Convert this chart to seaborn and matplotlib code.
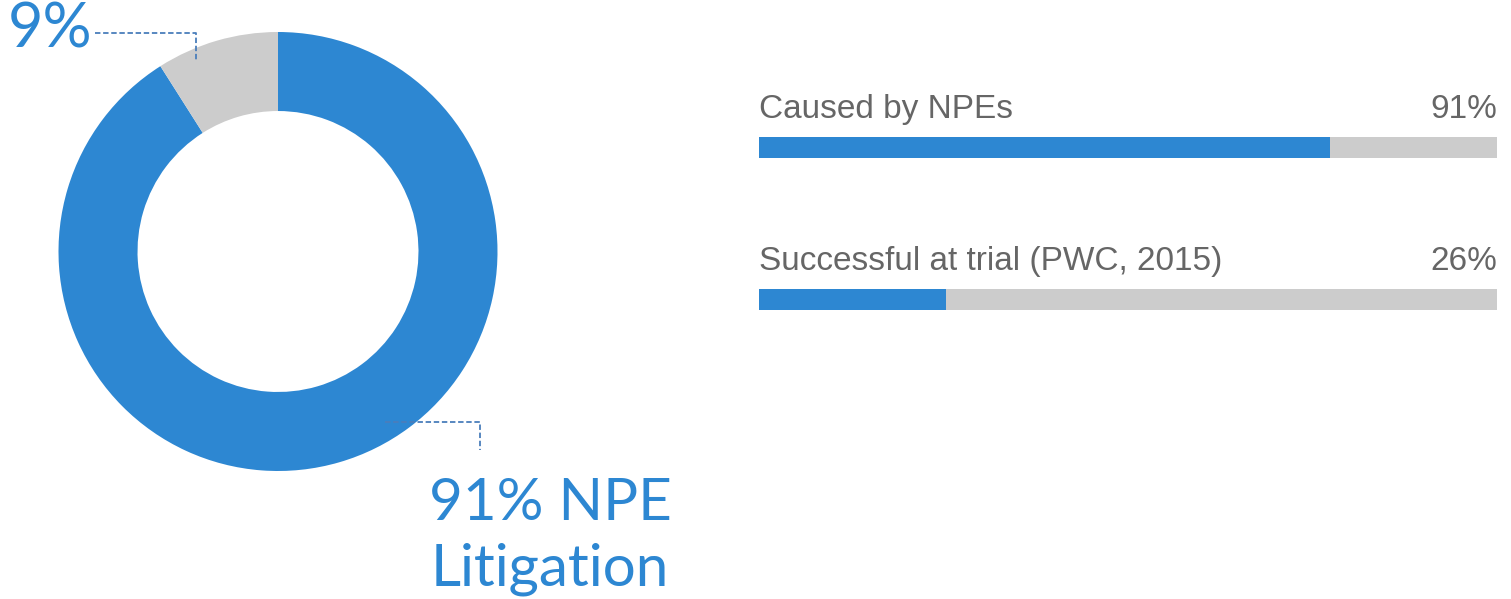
import matplotlib
matplotlib.use("Agg")
import matplotlib.pyplot as plt
import seaborn as sns
import pandas as pd

# donut data
slice_labels = ["NPE litigation", "Other"]
slice_values = [91, 9]

# progress bars
bar_labels = ["Caused by NPEs", "Successful at trial (PWC, 2015)"]
bar_value_text = ["91%", "26%"]
bar_fill = [77.4, 25.3]  # filled length as drawn in the picture
bar_total = [100, 100]

BLUE = "#2D87D2"
GREY = "#CCCCCC"
TEXT_GREY = "#666666"
LINE_BLUE = "#4A7EBB"

sns.set_theme(style="white")
plt.rcParams["font.family"] = ["Lato", "DejaVu Sans"]

W, H = 1511, 599
fig = plt.figure(figsize=(W / 100, H / 100), dpi=100)

# donut
cx, cy, r = 278, 251.5, 219.5
ax_d = fig.add_axes([(cx - r) / W, 1 - (cy + r) / H, 2 * r / W, 2 * r / H])
ax_d.pie(slice_values, colors=[BLUE, GREY], startangle=90, counterclock=False,
         radius=1, wedgeprops=dict(width=0.36, linewidth=0))
ax_d.set_xlim(-1, 1)
ax_d.set_ylim(-1, 1)
ax_d.set_aspect("auto")
ax_d.axis("off")

# progress bars
x0, x1 = 759, 1497
yc0, step = 147.5, 152
ax_b = fig.add_axes([x0 / W, 1 - (yc0 + 1.5 * step) / H, (x1 - x0) / W, 2 * step / H])
df = pd.DataFrame({"label": bar_labels, "total": bar_total, "fill": bar_fill})
sns.barplot(data=df, y="label", x="total", color=GREY, width=21 / step,
            orient="h", ax=ax_b, saturation=1, linewidth=0)
sns.barplot(data=df, y="label", x="fill", color=BLUE, width=21 / step,
            orient="h", ax=ax_b, saturation=1, linewidth=0)
ax_b.set_xlim(0, 100)
ax_b.set_ylim(1.5, -0.5)
ax_b.axis("off")
narrow = ["Liberation Sans", "DejaVu Sans"]
for i, (lab, val) in enumerate(zip(bar_labels, bar_value_text)):
    ax_b.text(0, i - 29.5 / step, lab, ha="left", va="baseline",
              fontsize=24, color=TEXT_GREY, family=narrow)
    ax_b.text(100, i - 29.5 / step, val, ha="right", va="baseline",
              fontsize=24, color=TEXT_GREY, family=narrow)

# overlay for donut labels and leader lines (pixel coords)
ov = fig.add_axes([0, 0, 1, 1], facecolor="none")
ov.set_xlim(0, W)
ov.set_ylim(H, 0)
ov.axis("off")
ov.plot([95, 196, 196], [33, 33, 62], color=LINE_BLUE, lw=1.3, ls=(0, (3, 1.5)))
ov.plot([385, 480, 480], [422, 422, 450], color=LINE_BLUE, lw=1.3, ls=(0, (3, 1.5)))
ov.text(8, 48, f"{slice_values[1]}%", ha="left", va="baseline",
        fontsize=44, color=BLUE)
ov.text(550, 520, f"{slice_values[0]}% NPE", ha="center", va="baseline",
        fontsize=42, color=BLUE)
ov.text(550, 585, "Litigation", ha="center", va="baseline",
        fontsize=42, color=BLUE)

fig.savefig("out.png", dpi=100)
